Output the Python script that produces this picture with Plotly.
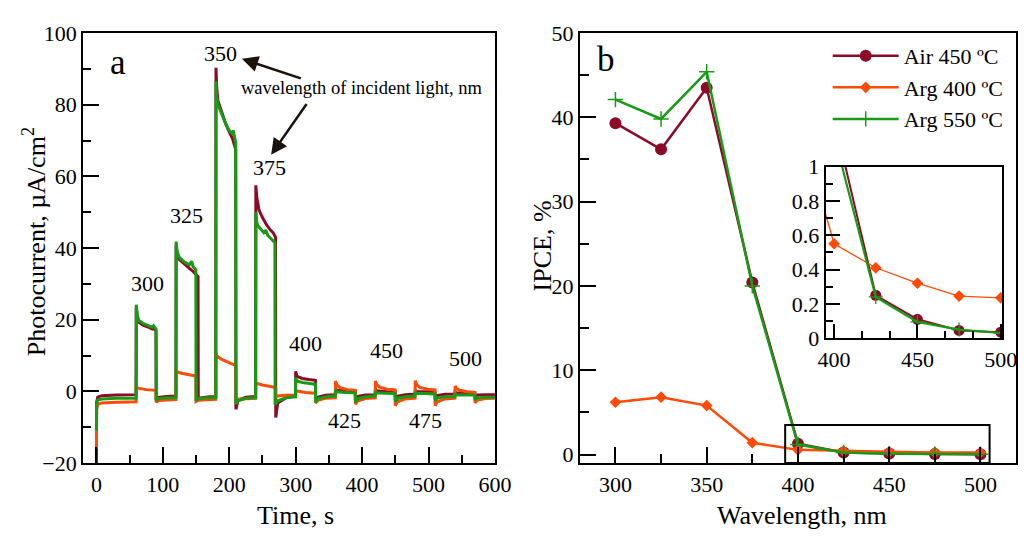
import plotly.graph_objects as go

# ---------------- Panel a: photocurrent transients ----------------
t_air = [0, 0.3, 2, 8, 30, 59.7,
         60, 61.5, 64, 70, 80, 84, 86, 89.7,
         90, 93, 105, 119.7,
         120, 121.5, 125, 132, 140, 146, 153,
         153.3, 157, 170, 179.7,
         180, 181, 183, 188, 195, 201, 205, 209.7,
         210, 213, 225, 239.7,
         240, 241.5, 245, 250, 256, 262, 266, 269.7,
         270, 273, 285, 299.7,
         300, 302, 310, 320, 329.7,
         330, 334, 345, 359.7,
         360, 362, 375, 389.7,
         390, 394, 405, 419.7,
         420, 422, 435, 449.7,
         450, 454, 465, 479.7,
         480, 482, 495, 509.7,
         510, 514, 525, 539.7,
         540, 542, 555, 569.7,
         570, 574, 585, 600]
i_air = [-20, -3, -1.6, -1.2, -1.0, -0.9,
         23.5, 20.5, 19.3, 18.5, 17.8, 17.4, 17.7, 16.8,
         -2.2, -1.7, -1.4, -1.3,
         40.8, 38.5, 36.8, 35.5, 34.3, 33.4, 32.0,
         -2.5, -1.8, -1.5, -1.4,
         90.3, 85, 81, 78, 74.5, 72, 70.5, 67.5,
         -5, -2.5, -1.6, -1.4,
         57.5, 54, 50.5, 48.5, 46.5, 45, 44.3, 43,
         -7.3, -3.2, -1.8, -1.3,
         5.6, 4.2, 3.6, 3.3, 3.1,
         -2.6, -1.6, -1.1, -0.9,
         0.8, 0.3, 0.1, 0.0,
         -2.4, -1.4, -1.0, -0.9,
         0.6, 0.2, 0.0, -0.1,
         -2.2, -1.3, -0.9, -0.8,
         0.3, 0.0, -0.1, -0.2,
         -2.0, -1.1, -0.8, -0.7,
         -0.2, -0.4, -0.5, -0.5,
         -1.7, -1.0, -0.9, -0.9]

t_arg400 = [0, 0.3, 2, 8, 30, 59.7,
            60, 62, 75, 89.7,
            90, 93, 105, 119.7,
            120, 122, 130, 140, 149.7,
            150, 153, 165, 179.7,
            180, 182, 188, 195, 202, 209.7,
            210, 213, 225, 239.7,
            240, 242, 250, 260, 269.7,
            270, 273, 285, 299.7,
            300, 302, 315, 329.7,
            330, 334, 345, 359.7,
            360, 362, 367, 378, 389.7,
            390, 393, 405, 419.7,
            420, 422, 427, 438, 449.7,
            450, 453, 465, 479.7,
            480, 482, 487, 498, 509.7,
            510, 513, 525, 539.7,
            540, 542, 547, 558, 569.7,
            570, 573, 585, 600]
i_arg400 = [-16, -5, -3.6, -3.2, -3.0, -2.9,
            1.5, 0.9, 0.5, 0.3,
            -3.0, -2.6, -2.4, -2.3,
            5.8, 5.4, 5.0, 4.6, 4.3,
            -2.8, -2.5, -2.3, -2.2,
            10.6, 9.8, 9.0, 8.3, 7.8, 7.3,
            -2.6, -2.2, -2.0, -1.9,
            2.6, 2.2, 1.8, 1.4, 1.1,
            -1.6, -1.3, -1.1, -1.0,
            0.5, 0.1, -0.3, -0.5,
            -3.2, -2.4, -1.9, -1.8,
            2.9, 1.8, 1.0, 0.5, 0.3,
            -3.6, -2.7, -2.0, -1.8,
            2.9, 1.9, 1.1, 0.6, 0.4,
            -4.0, -2.9, -2.1, -1.9,
            3.0, 1.9, 1.1, 0.6, 0.4,
            -4.0, -2.9, -2.1, -1.9,
            1.5, 0.8, 0.3, -0.1, -0.3,
            -3.2, -2.5, -2.0, -1.9]

t_arg550 = [0, 0.3, 2, 8, 30, 59.7,
            60, 61.5, 64, 70, 80, 84, 86, 89.7,
            90, 93, 105, 119.7,
            120, 121.5, 125, 132, 140, 143.5, 145.5, 149.7,
            150, 154, 165, 179.7,
            180, 181, 183, 188, 195, 201, 204, 206, 209.7,
            210, 213, 225, 239.7,
            240, 241.5, 244, 248, 252, 255, 258, 263, 268.7,
            269, 273, 285, 299.7,
            300, 302, 310, 320, 329.7,
            330, 334, 345, 359.7,
            360, 362, 375, 389.7,
            390, 394, 405, 419.7,
            420, 422, 435, 449.7,
            450, 454, 465, 479.7,
            480, 482, 495, 509.7,
            510, 514, 525, 539.7,
            540, 542, 555, 569.7,
            570, 574, 585, 600]
i_arg550 = [-11, -3.5, -2.4, -2.1, -1.9, -1.9,
            24.2, 21.2, 19.8, 19.0, 18.2, 17.9, 18.3, 17.4,
            -2.6, -2.0, -1.8, -1.8,
            41.8, 39.0, 37.3, 36.2, 35.3, 36.3, 34.8, 34.0,
            -2.6, -2.0, -1.8, -1.8,
            86.5, 82, 80, 77.5, 74.5, 72.5, 72.0, 72.8, 69.5,
            -3.5, -2.6, -1.9, -1.8,
            50.0, 47, 46, 45.2, 44.3, 45.0, 43.5, 42.6, 41.5,
            -3.7, -2.6, -1.8, -1.5,
            3.9, 2.9, 2.5, 2.2, 2.0,
            -3.0, -2.0, -1.5, -1.3,
            0.4, -0.1, -0.3, -0.4,
            -3.0, -2.0, -1.5, -1.3,
            0.0, -0.4, -0.5, -0.6,
            -2.8, -1.9, -1.5, -1.3,
            -0.2, -0.5, -0.6, -0.7,
            -2.5, -1.8, -1.5, -1.4,
            -0.8, -0.9, -1.0, -1.0,
            -2.3, -1.8, -1.6, -1.6]

pulse_labels = ["300", "325", "350", "375", "400", "425", "450", "475", "500"]
pulse_label_t = [76.5, 135, 187, 260, 315, 373.5, 437, 496, 556]
pulse_label_y = [30, 49.2, 94.4, 62.5, 13.5, -8, 11.4, -8, 9.3]

# ---------------- Panel b: IPCE ----------------
wavelength = [300, 325, 350, 375, 400, 425, 450, 475, 500]
ipce_air450 = [39.3, 36.2, 43.5, 20.4, 1.28, 0.25, 0.11, 0.045, 0.035]
ipce_arg400 = [6.2, 6.8, 5.8, 1.4, 0.55, 0.41, 0.32, 0.245, 0.235]
ipce_arg550 = [42.1, 39.8, 45.4, 20.0, 1.18, 0.24, 0.095, 0.05, 0.03]
series_names = ["Air 450 ºC", "Arg 400 ºC", "Arg 550 ºC"]

C_AIR = "#8C0B28"
C_A400 = "#FF4A08"
C_A550 = "#179B17"
FONT = "Liberation Serif"

W, H = 1035, 540
def px(x):
    return x / W
def py(y):
    return 1 - y / H

fig = go.Figure()

# panel a traces
for t, v, c in [(t_air, i_air, C_AIR), (t_arg400, i_arg400, C_A400), (t_arg550, i_arg550, C_A550)]:
    fig.add_trace(go.Scatter(x=t, y=v, mode="lines", line=dict(color=c, width=3),
                             xaxis="x", yaxis="y", showlegend=False))

# panel b traces
fig.add_trace(go.Scatter(x=wavelength, y=ipce_air450, mode="lines+markers", name=series_names[0],
                         line=dict(color=C_AIR, width=2.5),
                         marker=dict(symbol="circle", size=12, color=C_AIR),
                         xaxis="x2", yaxis="y2"))
fig.add_trace(go.Scatter(x=wavelength, y=ipce_arg400, mode="lines+markers", name=series_names[1],
                         line=dict(color=C_A400, width=2.5),
                         marker=dict(symbol="diamond", size=9, color=C_A400),
                         xaxis="x2", yaxis="y2"))
fig.add_trace(go.Scatter(x=wavelength, y=ipce_arg550, mode="lines+markers", name=series_names[2],
                         line=dict(color=C_A550, width=2.5),
                         marker=dict(symbol="cross-thin", size=11, color=C_A550,
                                     line=dict(color=C_A550, width=1.5)),
                         xaxis="x2", yaxis="y2"))

# inset traces
fig.add_trace(go.Scatter(x=wavelength, y=ipce_air450, mode="lines+markers",
                         line=dict(color=C_AIR, width=2),
                         marker=dict(symbol="circle", size=11, color=C_AIR),
                         xaxis="x3", yaxis="y3", showlegend=False))
fig.add_trace(go.Scatter(x=wavelength, y=ipce_arg400, mode="lines+markers",
                         line=dict(color=C_A400, width=1.3),
                         marker=dict(symbol="diamond", size=9, color=C_A400),
                         xaxis="x3", yaxis="y3", showlegend=False))
fig.add_trace(go.Scatter(x=wavelength, y=ipce_arg550, mode="lines+markers",
                         line=dict(color=C_A550, width=2.2),
                         marker=dict(symbol="cross-thin", size=10, color=C_A550,
                                     line=dict(color=C_A550, width=1.3)),
                         xaxis="x3", yaxis="y3", showlegend=False))

tickfont = dict(family=FONT, size=22, color="black")
common = dict(showline=True, linecolor="black", linewidth=2, mirror=True,
              ticks="inside", tickcolor="black", tickwidth=2, showgrid=False,
              zeroline=False, tickfont=tickfont)

fig.update_layout(
    width=W, height=H,
    margin=dict(l=0, r=0, t=0, b=0),
    paper_bgcolor="white", plot_bgcolor="white",
    font=dict(family=FONT, color="black"),
    xaxis=dict(domain=[px(77), px(499)], range=[-20, 600], dtick=100, ticklen=16,
               minor=dict(dtick=50, ticks="inside", ticklen=8, tickwidth=2, tickcolor="black"),
               anchor="y", **common),
    yaxis=dict(domain=[py(473), py(22)], range=[-20, 100], dtick=20, ticklen=16,
               minor=dict(dtick=10, ticks="inside", ticklen=8, tickwidth=2, tickcolor="black"),
               anchor="x", **common),
    xaxis2=dict(domain=[px(586), px(1033)], range=[280.5, 519.5], dtick=50, ticklen=16,
                minor=dict(dtick=25, ticks="inside", ticklen=9, tickwidth=2, tickcolor="black"),
                anchor="y2", **common),
    yaxis2=dict(domain=[py(473), py(22)], range=[-1.02, 50], dtick=10, ticklen=16,
                minor=dict(dtick=5, ticks="inside", ticklen=9, tickwidth=2, tickcolor="black"),
                anchor="x2", **common),
    xaxis3=dict(domain=[px(838), px(1019)], range=[395, 501], dtick=50, tick0=400, ticklen=14,
                minor=dict(dtick=50/3, tick0=400, ticks="inside", ticklen=7, tickwidth=2, tickcolor="black"),
                anchor="y3", **common),
    yaxis3=dict(domain=[py(342), py(162)], range=[0, 1], dtick=0.2, ticklen=14,
                minor=dict(dtick=0.1, ticks="inside", ticklen=7, tickwidth=2, tickcolor="black"),
                anchor="x3", **common),
    legend=dict(x=px(840), y=py(24), xanchor="left", yanchor="top",
                bgcolor="rgba(0,0,0,0)", borderwidth=0,
                font=dict(family=FONT, size=22, color="black"),
                itemwidth=66, tracegroupgap=0),
)

annotations = []
title_font = dict(family=FONT, size=26)
# axis titles
annotations.append(dict(text="Photocurrent, µA/cm<sup>2</sup>", x=px(28), y=py(241), xref="paper", yref="paper",
                        xanchor="center", yanchor="middle",
                        textangle=-90, showarrow=False, font=title_font))
annotations.append(dict(text="Time, s", x=px(295), y=py(528), xref="paper", yref="paper",
                        xanchor="center", yanchor="middle", showarrow=False, font=title_font))
annotations.append(dict(text="IPCE, %", x=px(548), y=py(245), xref="paper", yref="paper",
                        xanchor="center", yanchor="middle",
                        textangle=-90, showarrow=False, font=title_font))
annotations.append(dict(text="Wavelength, nm", x=px(814), y=py(528), xref="paper", yref="paper",
                        xanchor="center", yanchor="middle", showarrow=False, font=title_font))
# panel letters
annotations.append(dict(text="a", x=32, y=91.7, xref="x", yref="y", showarrow=False,
                        xanchor="center", yanchor="middle", font=dict(family=FONT, size=35)))
annotations.append(dict(text="b", x=294.7, y=46.8, xref="x2", yref="y2", showarrow=False,
                        xanchor="center", yanchor="middle", font=dict(family=FONT, size=35)))
# pulse wavelength labels
for lab, lt, ly in zip(pulse_labels, pulse_label_t, pulse_label_y):
    annotations.append(dict(text=lab, x=lt, y=ly, xref="x", yref="y", showarrow=False,
                            xanchor="center", yanchor="middle", font=dict(family=FONT, size=22)))
annotations.append(dict(text="wavelength of incident light, nm", x=px(237), y=py(80), xref="paper", yref="paper",
                        xanchor="left", yanchor="middle", showarrow=False, font=dict(family=FONT, size=18.5)))
# arrows
for (tx, ty, hx, hy) in [(310, 87.2, 219, 92.8), (318, 80.6, 263, 66)]:
    annotations.append(dict(text="", x=hx, y=hy, ax=tx, ay=ty, xref="x", yref="y", axref="x", ayref="y",
                            showarrow=True, arrowhead=2, arrowsize=1.3, arrowwidth=2.5,
                            arrowcolor="#1c120c", standoff=0, startstandoff=0))
fig.update_layout(annotations=annotations)

# zoom rectangle in panel b
fig.add_shape(type="rect", xref="x2", yref="y2", x0=393, x1=505, y0=-1.02, y1=3.5,
              line=dict(color="black", width=2), fillcolor="rgba(0,0,0,0)")

fig.write_html("out.html",
               post_script="document.documentElement.style.margin='0px';document.body.style.margin='0px';document.body.style.padding='0px';document.body.style.overflow='hidden';")
